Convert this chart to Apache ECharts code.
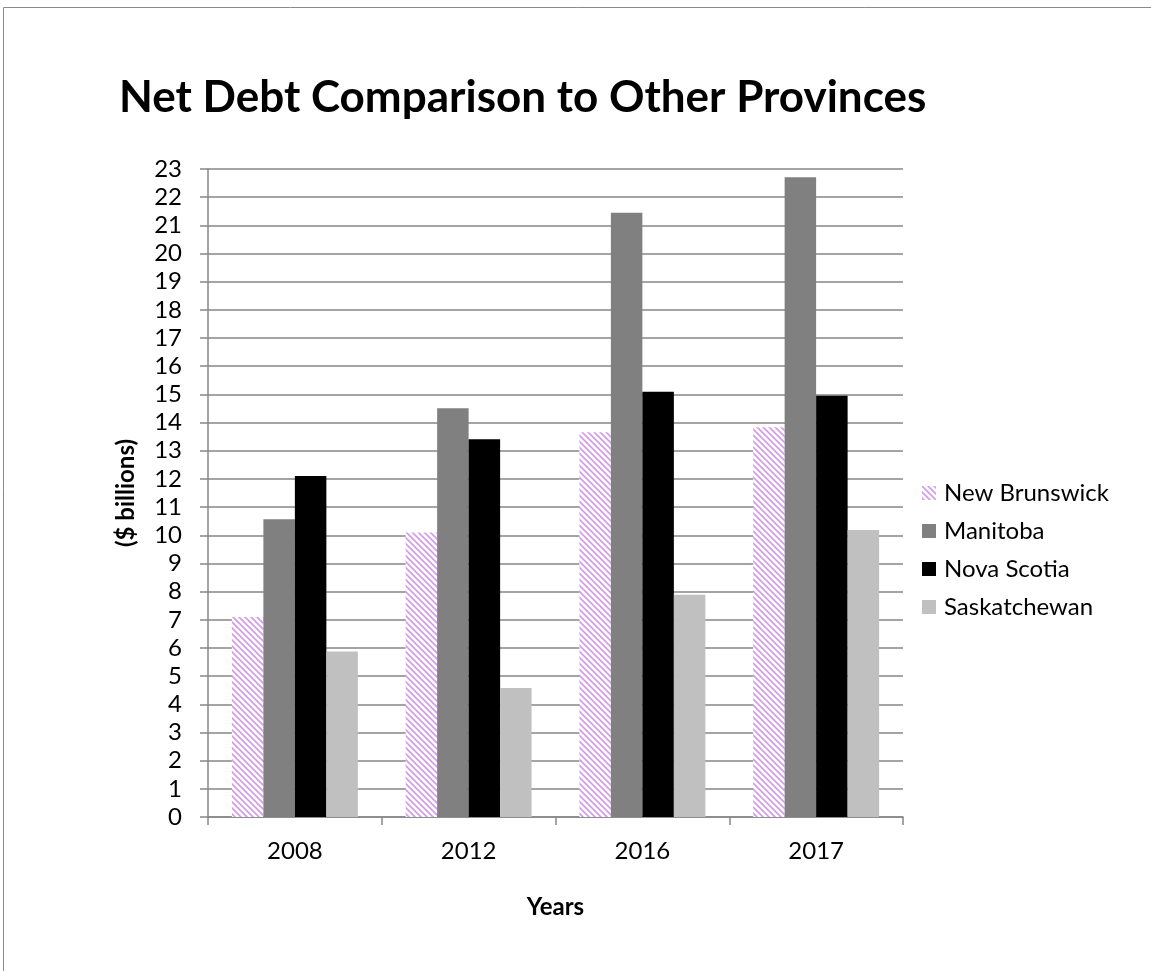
<!DOCTYPE html>
<html>
<head>
<meta charset="utf-8">
<script src="https://cdn.jsdelivr.net/npm/echarts@6/dist/echarts.min.js"></script>
<style>
  html, body { margin: 0; padding: 0; background: #fff; }
  #main { width: 1151px; height: 971px; }
</style>
</head>
<body>
<div id="main"></div>
<script>
var years = ['2008', '2012', '2016', '2017'];
var newBrunswick = [7.1, 10.1, 13.66, 13.83];
var manitoba = [10.57, 14.51, 21.45, 22.71];
var novaScotia = [12.1, 13.41, 15.09, 14.95];
var saskatchewan = [5.87, 4.58, 7.89, 10.19];

// diagonal hatch for New Brunswick
function makeHatch() {
    var c = document.createElement('canvas');
    c.width = 6;
    c.height = 6;
    var ctx = c.getContext('2d');
    ctx.fillStyle = '#ffffff';
    ctx.fillRect(0, 0, 6, 6);
    ctx.strokeStyle = '#d49ae8';
    ctx.lineWidth = 1.6;
    ctx.beginPath();
    ctx.moveTo(-1, -1); ctx.lineTo(7, 7);
    ctx.moveTo(-4, 2); ctx.lineTo(4, 10);
    ctx.moveTo(2, -4); ctx.lineTo(10, 4);
    ctx.stroke();
    return c;
}
var hatch = { image: makeHatch(), repeat: 'repeat' };

var chart = echarts.init(document.getElementById('main'));
var font = 'Lato, "Open Sans", sans-serif';

var option = {
    animation: false,
    backgroundColor: '#fff',
    textStyle: { fontFamily: font },
    title: {
        text: 'Net Debt Comparison to Other Provinces',
        left: 114,
        top: 71,
        textStyle: { fontSize: 44, fontWeight: 'bold', color: '#000', fontFamily: font }
    },
    graphic: [{
        type: 'rect',
        shape: { x: 3.5, y: 7.5, width: 1200, height: 1000 },
        style: { fill: 'none', stroke: '#8a8a8a', lineWidth: 1 },
        silent: true
    }],
    legend: {
        orient: 'vertical',
        left: 917,
        top: 476,
        itemWidth: 14,
        itemHeight: 14,
        itemGap: 14,
        icon: 'rect',
        textStyle: { fontSize: 24, color: '#000', fontFamily: font, padding: [0, 0, 0, 3] },
        data: ['New Brunswick', 'Manitoba', 'Nova Scotia', 'Saskatchewan']
    },
    grid: {
        left: 208,
        right: 248,
        top: 169,
        bottom: 154,
        containLabel: false
    },
    xAxis: {
        type: 'category',
        data: years,
        name: 'Years',
        nameLocation: 'middle',
        nameGap: 78,
        nameTextStyle: { fontSize: 24, fontWeight: 'bold', color: '#000' },
        axisLine: { lineStyle: { color: '#868686', width: 1.5 } },
        axisTick: { show: true, length: 8, lineStyle: { color: '#868686', width: 1.5 } },
        axisLabel: { fontSize: 24, color: '#000', margin: 22 }
    },
    yAxis: {
        type: 'value',
        min: 0,
        max: 23,
        interval: 1,
        name: '($ billions)',
        nameLocation: 'middle',
        nameRotate: 90,
        nameGap: 70,
        nameTextStyle: { fontSize: 24, fontWeight: 'bold', color: '#000' },
        axisLine: { show: true, lineStyle: { color: '#868686', width: 1.5 } },
        axisTick: { show: true, length: 8, lineStyle: { color: '#868686', width: 1.5 } },
        axisLabel: { fontSize: 24, color: '#000', margin: 26 },
        splitLine: { lineStyle: { color: '#868686', width: 1.5 } }
    },
    series: [
        {
            name: 'New Brunswick',
            type: 'bar',
            barGap: '0%',
            barCategoryGap: '27.5%',
            itemStyle: { color: hatch },
            data: newBrunswick
        },
        {
            name: 'Manitoba',
            type: 'bar',
            itemStyle: { color: '#808080' },
            data: manitoba
        },
        {
            name: 'Nova Scotia',
            type: 'bar',
            itemStyle: { color: '#000000' },
            data: novaScotia
        },
        {
            name: 'Saskatchewan',
            type: 'bar',
            itemStyle: { color: '#c0c0c0' },
            data: saskatchewan
        }
    ]
};

chart.setOption(option);
</script>
</body>
</html>
